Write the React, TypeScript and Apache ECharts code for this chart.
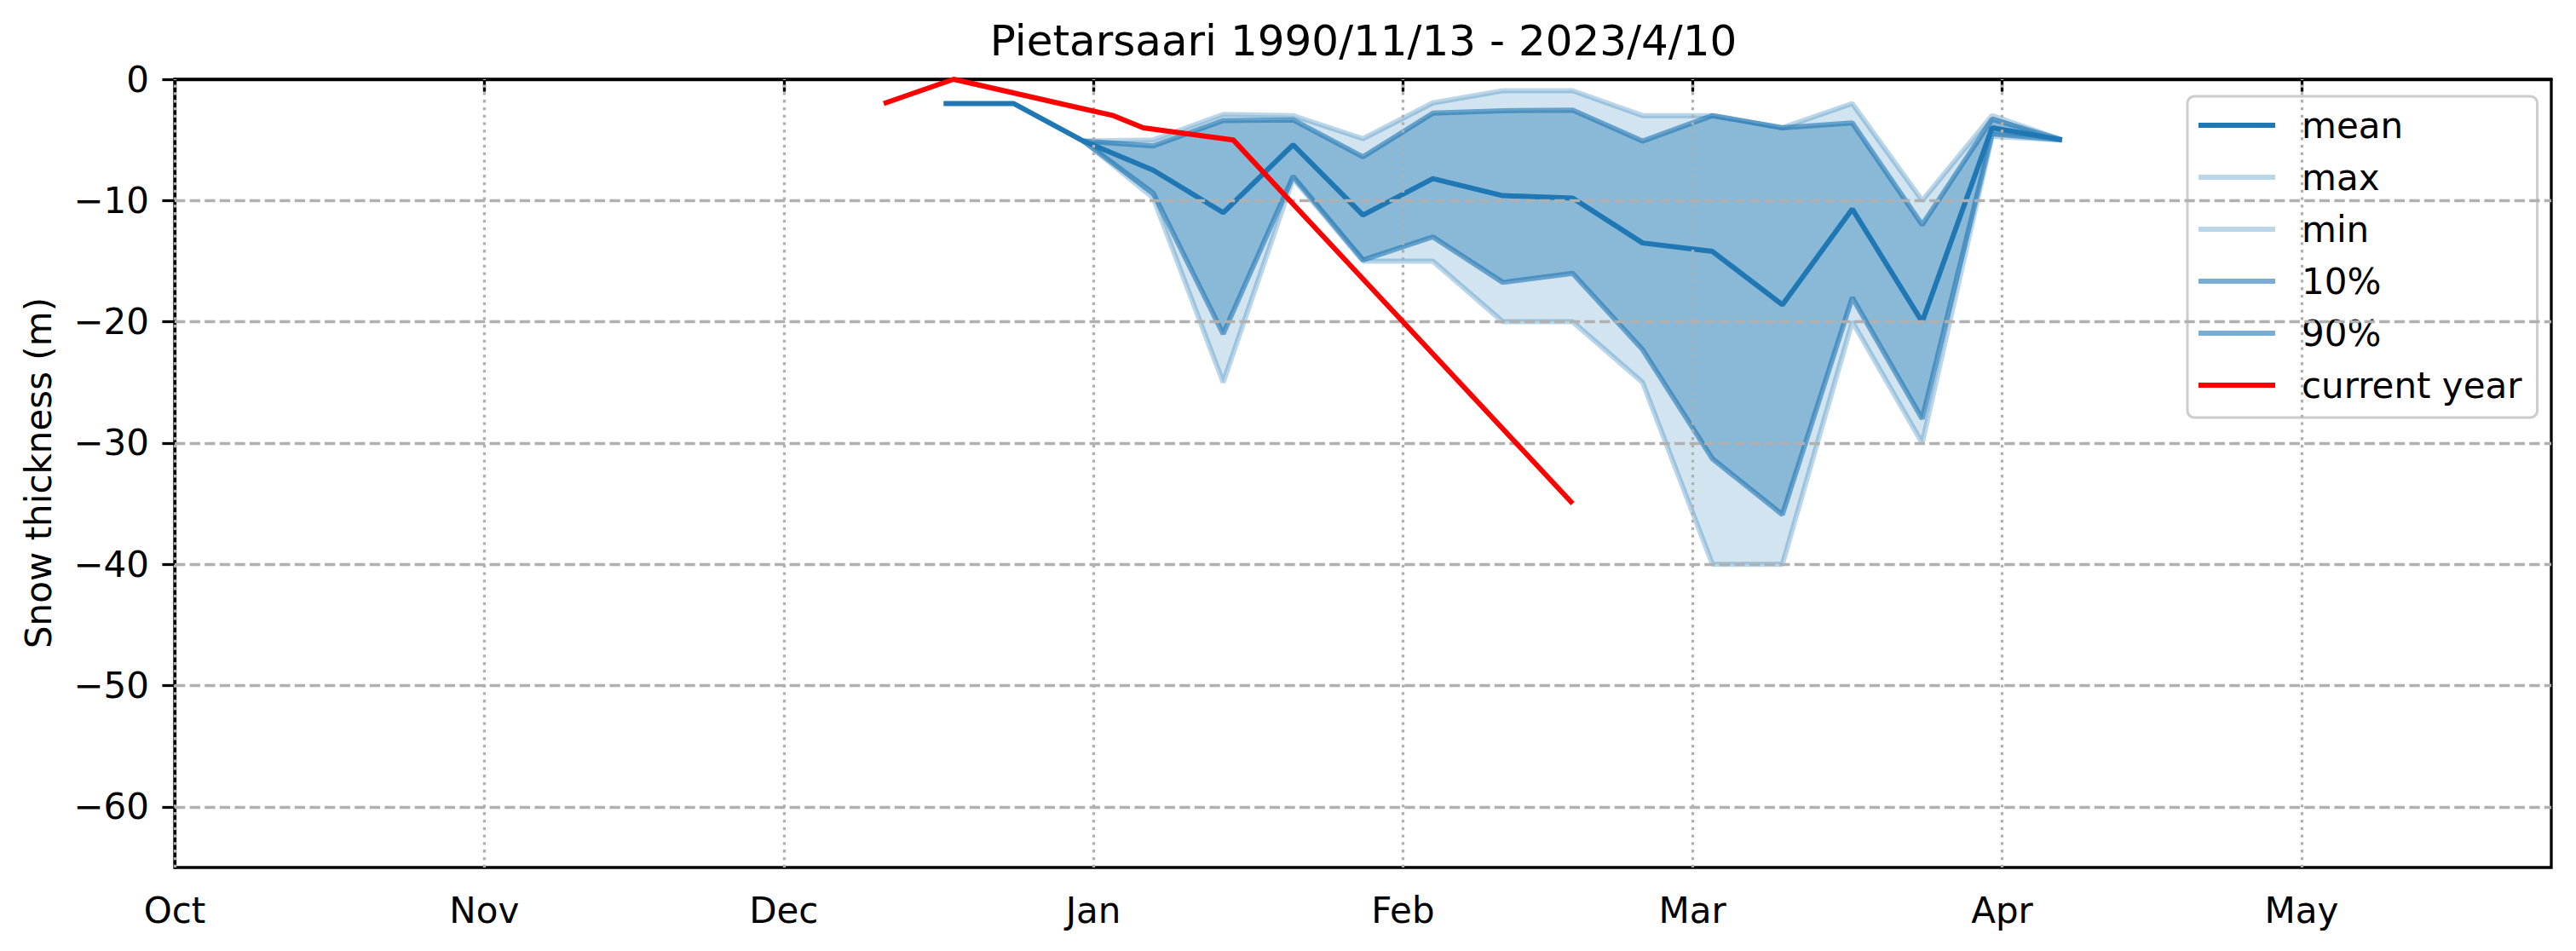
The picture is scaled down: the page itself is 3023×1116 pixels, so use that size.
import React, { useEffect, useRef } from "react";
import * as echarts from "echarts";

// x values are days counted from 1 October (leap-year calendar, as in the reference)
const monthTickDays = [0, 31, 61, 92, 123, 152, 183, 213];
const monthTickLabels = ["Oct", "Nov", "Dec", "Jan", "Feb", "Mar", "Apr", "May"];
const yTickValues = [0, -10, -20, -30, -40, -50, -60];

const statDays = [77, 84, 91, 98, 105, 112, 119, 126, 133, 140, 147, 154, 161, 168, 175, 182, 189];
const meanVals = [-2, -2, -5.1, -7.5, -11, -5.4, -11.2, -8.2, -9.6, -9.8, -13.5, -14.2, -18.6, -10.7, -20, -4, -5];

const bandDays = [91, 98, 105, 112, 119, 126, 133, 140, 147, 154, 161, 168, 175, 182, 189];
const maxVals = [-5.1, -5, -2.9, -3, -4.9, -1.95, -0.95, -0.95, -3, -3, -4, -2, -10, -3, -5];
const p90Vals = [-5.1, -5.5, -3.4, -3.35, -6.4, -2.8, -2.6, -2.55, -5.1, -3, -4, -3.6, -12, -3.3, -5];
const p10Vals = [-5.1, -9.4, -21, -8, -14.9, -13, -16.75, -16, -22.3, -31.3, -35.9, -18, -28, -4.5, -5];
const minVals = [-5.1, -9.8, -25, -8.2, -15, -15, -20, -20, -25, -40, -40, -20, -30, -4.7, -5];

const curDays = [71, 78, 94, 97, 106, 140];
const curVals = [-2, 0, -3, -4, -5, -35];

const FONT = "DejaVu Sans";
const BLUE = "#1f77b4";
const BLUE30 = "rgba(31,119,180,0.3)";
const BLUE60 = "rgba(31,119,180,0.6)";

const zip = (xs: number[], ys: number[]) => xs.map((x, i) => [x, ys[i]]);

export default function App() {
  const ref = useRef<HTMLDivElement>(null);
  useEffect(() => {
    if (!ref.current) return;
    const chart = echarts.init(ref.current, undefined, { renderer: "svg" });

    const lineSeries = (name: string, xs: number[], ys: number[], color: string, z: number) => ({
      name,
      type: "line",
      data: zip(xs, ys),
      showSymbol: false,
      symbol: "none",
      z,
      color,
      itemStyle: { color },
      lineStyle: { color, width: 6 },
    });

    const bandSeries = (name: string, lo: number[], hi: number[], fill: string) => ({
      name,
      type: "custom",
      z: 1,
      silent: true,
      data: [[bandDays[0], lo[0]]],
      renderItem: (_params: any, api: any) => {
        const upper = bandDays.map((d, i) => api.coord([d, hi[i]]));
        const lower = bandDays.map((d, i) => api.coord([d, lo[i]])).reverse();
        return {
          type: "polygon",
          shape: { points: upper.concat(lower) },
          style: { fill, stroke: "none" },
        };
      },
    });

    const gridMarks: any[] = [
      ...monthTickDays.map((d) => ({
        xAxis: d,
        lineStyle: { color: "#b0b0b0", width: 3.3, type: [3.3, 5.5] },
      })),
      ...yTickValues.filter((v) => v !== 0).map((v) => ({
        yAxis: v,
        lineStyle: { color: "#b0b0b0", width: 3.3, type: [12.3, 5.3] },
      })),
    ];

    const option: any = {
      animation: false,
      grid: {
        left: 205,
        right: 29,
        top: 93,
        bottom: 98,
        show: true,
        borderColor: "#000",
        borderWidth: 3.3,
        backgroundColor: "transparent",
      },
      xAxis: {
        type: "value",
        min: 0,
        max: 238,
        axisLine: { show: true, lineStyle: { color: "#000", width: 3.3 } },
        axisTick: {
          show: true,
          length: 14.6,
          customValues: monthTickDays,
          lineStyle: { color: "#000", width: 3.3 },
        },
        axisLabel: {
          customValues: monthTickDays,
          formatter: (v: number) => {
            const i = monthTickDays.indexOf(Math.round(v));
            return i >= 0 ? monthTickLabels[i] : "";
          },
          fontSize: 42,
          fontFamily: FONT,
          color: "#000",
          margin: 29,
        },
        splitLine: { show: false },
      },
      yAxis: {
        type: "value",
        min: -65,
        max: 0,
        axisLine: { show: true, lineStyle: { color: "#000", width: 3.3 } },
        axisTick: {
          show: true,
          length: 14.6,
          customValues: yTickValues,
          lineStyle: { color: "#000", width: 3.3 },
        },
        axisLabel: {
          customValues: yTickValues,
          formatter: (v: number) => (v < 0 ? "\u2212" + Math.abs(v) : String(v)),
          fontSize: 42,
          fontFamily: FONT,
          color: "#000",
          margin: 30,
        },
        splitLine: { show: false },
      },
      legend: {
        data: ["mean", "max", "min", "10%", "90%", "current year"].map((n) => ({ name: n, icon: "rect" })),
        orient: "vertical",
        left: 2567,
        top: 113,
        padding: [10, 18, 14, 13],
        itemWidth: 90,
        itemHeight: 6,
        itemGap: 13,
        selectedMode: false,
        textStyle: {
          fontSize: 42,
          fontFamily: FONT,
          color: "#000",
          lineHeight: 48,
          padding: [0, 0, 0, 26],
        },
        backgroundColor: "rgba(255,255,255,0.8)",
        borderColor: "#cccccc",
        borderWidth: 3,
        borderRadius: 8,
      },
      graphic: [
        {
          type: "text",
          x: 1600,
          y: 48,
          style: {
            text: "Pietarsaari 1990/11/13 - 2023/4/10",
            fontSize: 50,
            fontFamily: FONT,
            fill: "#000",
            textAlign: "center",
            textVerticalAlign: "middle",
          },
        },
        {
          type: "text",
          x: 45,
          y: 555,
          rotation: Math.PI / 2,
          style: {
            text: "Snow thickness (m)",
            fontSize: 42,
            fontFamily: FONT,
            fill: "#000",
            textAlign: "center",
            textVerticalAlign: "middle",
          },
        },
      ],
      series: [
        bandSeries("_minmax", minVals, maxVals, "rgba(31,119,180,0.2)"),
        bandSeries("_p10p90", p10Vals, p90Vals, "rgba(31,119,180,0.4)"),
        {
          name: "_grid",
          type: "line",
          data: [[0, 0]],
          showSymbol: false,
          symbol: "none",
          z: 1.5,
          silent: true,
          lineStyle: { opacity: 0 },
          markLine: {
            silent: true,
            symbol: ["none", "none"],
            label: { show: false },
            data: gridMarks,
          },
        },
        lineSeries("mean", statDays, meanVals, BLUE, 4),
        lineSeries("max", bandDays, maxVals, BLUE30, 3),
        lineSeries("min", bandDays, minVals, BLUE30, 3),
        lineSeries("10%", bandDays, p10Vals, BLUE60, 3),
        lineSeries("90%", bandDays, p90Vals, BLUE60, 3),
        lineSeries("current year", curDays, curVals, "#ff0000", 5),
      ],
    };
    chart.setOption(option);
    return () => chart.dispose();
  }, []);

  return (
    <div
      ref={ref}
      style={{ position: "absolute", left: 0, top: 0, width: 3023, height: 1116, background: "#fff" }}
    />
  );
}
